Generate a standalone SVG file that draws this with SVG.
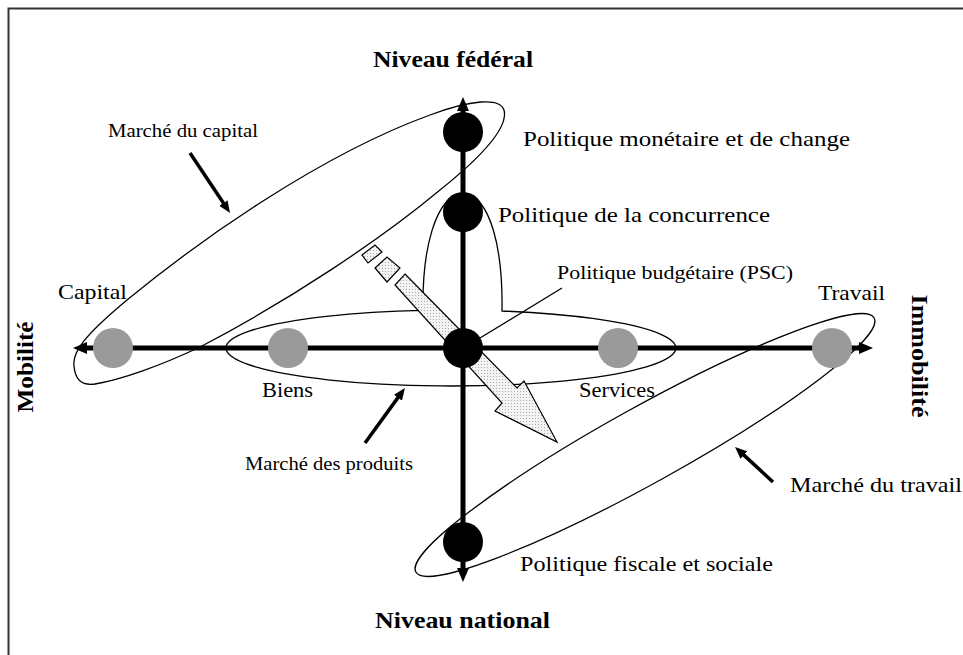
<svg xmlns="http://www.w3.org/2000/svg" width="963" height="655" viewBox="0 0 963 655">
<style>
  .thin { fill: none; stroke: #000; stroke-width: 1.3; }
  .axis { stroke: #000; stroke-width: 5; fill: none; }
  .ptr { stroke: #000; stroke-width: 3.5; fill: none; }
  .blk { fill: #000; }
  .gry { fill: #9a9a9a; }
  text { font-family: "Liberation Serif", "Times New Roman", serif; fill: #000; }
  .h { font-size: 23px; font-weight: bold; }
  .t { font-size: 22px; }
  .s { font-size: 18px; }
</style>
<defs>
  <marker id="ah" viewBox="0 0 14 12" refX="1" refY="6" markerWidth="14" markerHeight="12" markerUnits="userSpaceOnUse" orient="auto-start-reverse">
    <path d="M0,0 L14,6 L0,12 Z" fill="#000"/>
  </marker>
  <marker id="la" viewBox="0 0 12 10" refX="1" refY="5" markerWidth="12" markerHeight="10" markerUnits="userSpaceOnUse" orient="auto">
    <path d="M0,0 L12,5 L0,10 Z" fill="#000"/>
  </marker>
  <pattern id="dots" width="3" height="3" patternUnits="userSpaceOnUse">
    <rect width="3" height="3" fill="#f4f4f4"/>
    <rect x="1" y="1" width="1" height="1" fill="#aaaaaa"/>
  </pattern>
</defs>

<rect width="963" height="655" fill="#fff"/>
<path d="M8.5,655 L8.5,8.5 L963,8.5" fill="none" stroke="#333" stroke-width="2"/>

<g id="connectors">
  <!-- markets -->
  <path id="marche-capital" class="thin" d="M74,366 C72,352 85,335 127,300 C200,240 320,155 430,115 C470,100 500,97 504,110 C508,125 490,150 440,190 C380,240 290,300 200,347 C160,366 120,380 95,384 C80,386 75,378 74,366 Z"/>
  <ellipse id="marche-travail" class="thin" cx="645" cy="445" rx="262" ry="38" transform="rotate(-29 645 445)"/>
  <path id="marche-produits" class="thin" d="M423,310.3 A225,38 0 1 0 502,311 C503,250 491,196 463,193 C435,196 422,250 423,310.3 Z"/>
  <line class="thin" x1="562" y1="288" x2="480" y2="338"/>

  <!-- dotted shift arrow -->
  <g fill="url(#dots)" stroke="#000" stroke-width="1.2">
    <polygon points="362,255 375,245 382,252 368,263"/>
    <polygon points="375,268 387,257 400,268 387,282"/>
    <polygon points="405,274 517,388 524,381 557,442 495,411 502,403 395,285"/>
  </g>

  <!-- axes -->
  <line class="axis" x1="463" y1="110" x2="463" y2="569" marker-start="url(#ah)" marker-end="url(#ah)"/>
  <line class="axis" x1="86" y1="348" x2="860" y2="348" marker-start="url(#ah)" marker-end="url(#ah)"/>

  <!-- label pointers -->
  <line class="ptr" x1="190" y1="153" x2="223.9" y2="203.8" marker-end="url(#la)"/>
  <line class="ptr" x1="365" y1="443" x2="398.5" y2="396.9" marker-end="url(#la)"/>
  <line class="ptr" x1="773" y1="482" x2="743.1" y2="454.4" marker-end="url(#la)"/>
</g>

<g id="node-monetaire">
  <circle class="blk" cx="463" cy="132" r="20"/>
  <text class="t" x="523" y="146" textLength="327" lengthAdjust="spacingAndGlyphs">Politique monétaire et de change</text>
</g>
<g id="node-concurrence">
  <circle class="blk" cx="463" cy="212" r="20"/>
  <text class="t" x="498" y="222" textLength="272" lengthAdjust="spacingAndGlyphs">Politique de la concurrence</text>
</g>
<g id="node-budgetaire">
  <circle class="blk" cx="463" cy="348" r="20"/>
  <text class="s" x="557" y="279" textLength="236" lengthAdjust="spacingAndGlyphs">Politique budgétaire (PSC)</text>
</g>
<g id="node-fiscale">
  <circle class="blk" cx="463" cy="542" r="20"/>
  <text class="t" x="520" y="571" textLength="253" lengthAdjust="spacingAndGlyphs">Politique fiscale et sociale</text>
</g>
<g id="node-capital">
  <circle class="gry" cx="113" cy="348" r="20"/>
  <text class="t" x="58" y="299" textLength="69" lengthAdjust="spacingAndGlyphs">Capital</text>
</g>
<g id="node-biens">
  <circle class="gry" cx="288" cy="348" r="20"/>
  <text class="t" x="262" y="397" textLength="51" lengthAdjust="spacingAndGlyphs">Biens</text>
</g>
<g id="node-services">
  <circle class="gry" cx="618" cy="348" r="20"/>
  <text class="t" x="579" y="397" textLength="76" lengthAdjust="spacingAndGlyphs">Services</text>
</g>
<g id="node-travail">
  <circle class="gry" cx="832" cy="348" r="20"/>
  <text class="t" x="818" y="300" textLength="67" lengthAdjust="spacingAndGlyphs">Travail</text>
</g>

<g id="labels">
  <text class="h" x="373" y="67" textLength="160" lengthAdjust="spacingAndGlyphs">Niveau fédéral</text>
  <text class="h" x="375" y="628" textLength="175" lengthAdjust="spacingAndGlyphs">Niveau national</text>
  <text class="h" text-anchor="middle" transform="translate(33,367) rotate(-90)" textLength="91" lengthAdjust="spacingAndGlyphs">Mobilité</text>
  <text class="h" text-anchor="middle" transform="translate(912,356) rotate(90)" textLength="123" lengthAdjust="spacingAndGlyphs">Immobilité</text>
  <text class="s" x="108" y="137" textLength="150" lengthAdjust="spacingAndGlyphs">Marché du capital</text>
  <text class="s" x="245" y="470" textLength="168" lengthAdjust="spacingAndGlyphs">Marché des produits</text>
  <text class="t" x="790" y="492" textLength="172" lengthAdjust="spacingAndGlyphs">Marché du travail</text>
</g>
</svg>
